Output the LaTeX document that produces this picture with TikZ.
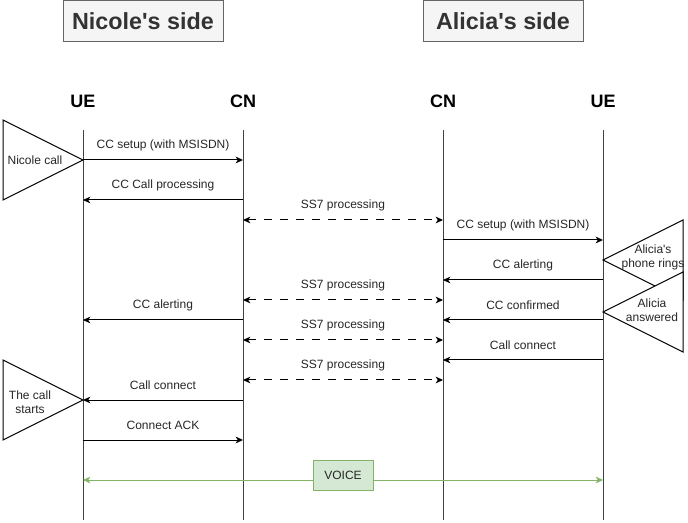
\documentclass[tikz,border=0pt]{standalone}
\usepackage{fontspec}
\setmainfont{Liberation Sans}
\usetikzlibrary{arrows.meta}
\definecolor{tgrey}{HTML}{333333}
\definecolor{tfill}{HTML}{F5F5F5}
\definecolor{tborder}{HTML}{666666}
\definecolor{vfill}{HTML}{D5E8D4}
\definecolor{vline}{HTML}{82B366}
\tikzset{
  msg/.style={line width=0.75pt, -{Stealth[length=5.5pt,width=5pt,inset=1.6pt]}},
  ss7/.style={line width=0.75pt, {Stealth[length=5.5pt,width=5pt,inset=1.6pt]}-{Stealth[length=5.5pt,width=5pt,inset=1.6pt]}, dash pattern=on 6pt off 6pt},
  voice/.style={line width=0.75pt, draw=vline, {Stealth[length=5.5pt,width=5pt,inset=1.6pt]}-{Stealth[length=5.5pt,width=5pt,inset=1.6pt]}},
  lbl/.style={font=\fontsize{9}{10.5}\selectfont, inner sep=0pt, text=black!85},
  tlbl/.style={font=\fontsize{9}{10.5}\selectfont, inner sep=0pt, align=center, text=black!85},
  hdr/.style={font=\fontsize{13.5}{16}\selectfont\bfseries, inner sep=0pt},
  titlebox/.style={draw=tborder, fill=tfill, line width=0.75pt, minimum width=120pt, minimum height=30.75pt, inner sep=0pt, font=\fontsize{17.5}{20}\selectfont\bfseries, text=tgrey},
  life/.style={line width=0.75pt, draw=black!75},
  tri/.style={line width=0.75pt, draw=black, fill=white},
  vbox/.style={draw=vline, fill=vfill, line width=0.75pt, minimum width=45pt, minimum height=22.5pt, inner sep=0pt, font=\fontsize{9}{10.5}\selectfont, text=black!85}
}
\begin{document}
\begin{tikzpicture}[x=0.75pt,y=-0.75pt]
\useasboundingbox (0,0) rectangle (688,523);
% titles
\node[titlebox] (tN) at (143,20.8) {Nicole\textquotesingle s side};
\node[titlebox] (tA) at (503,20.8) {Alicia\textquotesingle s side};
% headers
\node[hdr] (hUE1) at (83,101) {UE};
\node[hdr] (hCN1) at (243,101) {CN};
\node[hdr] (hCN2) at (443,101) {CN};
\node[hdr] (hUE2) at (603,101) {UE};
% lifelines
\coordinate (ue1) at (83,130);  \coordinate (ue1b) at (83,520);
\coordinate (cn1) at (243,130); \coordinate (cn1b) at (243,520);
\coordinate (cn2) at (443,130); \coordinate (cn2b) at (443,520);
\coordinate (ue2) at (603,130); \coordinate (ue2b) at (603,520);
\draw[life] (ue1) -- (ue1b);
\draw[life] (cn1) -- (cn1b);
\draw[life] (cn2) -- (cn2b);
\draw[life] (ue2) -- (ue2b);
% messages
\draw[msg] (ue1 |- 0,160) -- node[lbl, yshift=11.25pt] (m1) {CC setup (with MSISDN)} (cn1 |- 0,160);
\draw[msg] (cn1 |- 0,200) -- node[lbl, yshift=11.25pt] (m2) {CC Call processing} (ue1 |- 0,200);
\draw[ss7] (cn1 |- 0,220) -- node[lbl, yshift=11.25pt] (m3) {SS7 processing} (cn2 |- 0,220);
\draw[msg] (cn2 |- 0,240) -- node[lbl, yshift=11.25pt] (m4) {CC setup (with MSISDN)} (ue2 |- 0,240);
\draw[msg] (ue2 |- 0,280) -- node[lbl, yshift=11.25pt] (m5) {CC alerting} (cn2 |- 0,280);
\draw[ss7] (cn1 |- 0,300) -- node[lbl, yshift=11.25pt] (m6) {SS7 processing} (cn2 |- 0,300);
\draw[msg] (cn1 |- 0,320) -- node[lbl, yshift=11.25pt] (m7) {CC alerting} (ue1 |- 0,320);
\draw[msg] (ue2 |- 0,320) -- node[lbl, yshift=11.25pt] (m8) {CC confirmed} (cn2 |- 0,320);
\draw[ss7] (cn1 |- 0,340) -- node[lbl, yshift=11.25pt] (m9) {SS7 processing} (cn2 |- 0,340);
\draw[msg] (ue2 |- 0,360) -- node[lbl, yshift=11.25pt] (m10) {Call connect} (cn2 |- 0,360);
\draw[ss7] (cn1 |- 0,380) -- node[lbl, yshift=11.25pt] (m11) {SS7 processing} (cn2 |- 0,380);
\draw[msg] (cn1 |- 0,400) -- node[lbl, yshift=11.25pt] (m12) {Call connect} (ue1 |- 0,400);
\draw[msg] (ue1 |- 0,440) -- node[lbl, yshift=11.25pt] (m13) {Connect ACK} (cn1 |- 0,440);
% voice
\draw[voice] (ue2 |- 0,480) -- (ue1 |- 0,480);
\node[vbox] (v) at (343,475) {VOICE};
% triangles
\draw[tri] (3,120) -- (83,160) -- (3,200) -- cycle;
\draw[tri] (683,220) -- (603,260) -- (683,300) -- cycle;
\draw[tri] (683,272) -- (603,312) -- (683,352) -- cycle;
\draw[tri] (3,360) -- (83,400) -- (3,440) -- cycle;
\node[tlbl] (t1) at (35,160) {Nicole call};
\node[tlbl] (t2) at (653,257) {Alicia\textquotesingle s\\phone rings};
\node[tlbl] (t3) at (652,310) {Alicia\\answered};
\node[tlbl] (t4) at (30,402) {The call\\starts};
\end{tikzpicture}
\end{document}
